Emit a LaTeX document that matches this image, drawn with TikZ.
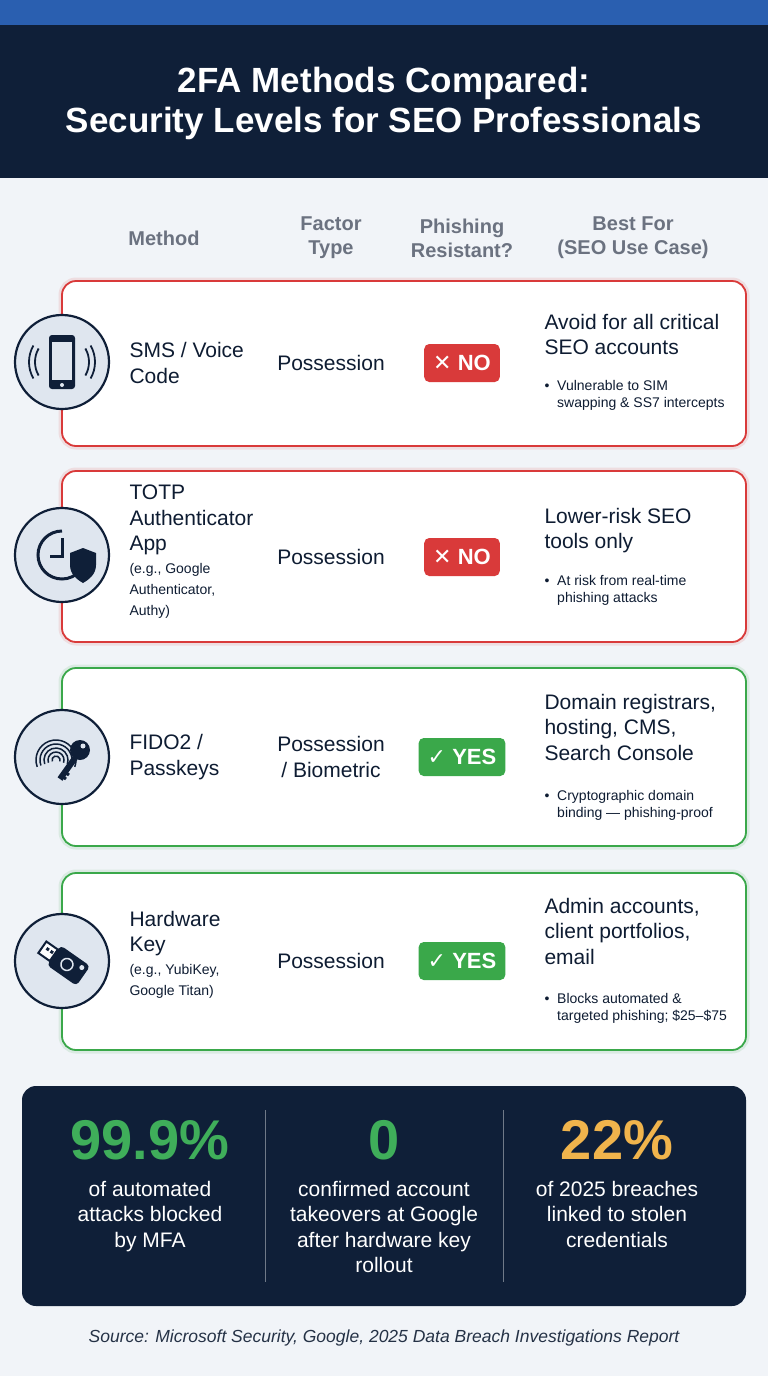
\documentclass[tikz,border=0pt]{standalone}
\usepackage{fontspec}
\setmainfont{Liberation Sans}
\newfontfamily\symfont{DejaVu Sans}
\usetikzlibrary{positioning}
\definecolor{navy}{HTML}{0F1F38}
\definecolor{topblue}{HTML}{2A5FB0}
\definecolor{pagebg}{HTML}{F1F4F8}
\definecolor{badred}{HTML}{D93A3A}
\definecolor{goodgreen}{HTML}{3AA84A}
\definecolor{headgray}{HTML}{6B7280}
\definecolor{iconfill}{HTML}{DFE6EF}
\definecolor{statgreen}{HTML}{3FAE5A}
\definecolor{statgold}{HTML}{F0B44C}
\newcommand{\fs}[1]{\fontsize{#1}{\dimexpr #1pt*12/10\relax}\selectfont}
\tikzset{
  card/.style={draw=#1, line width=1.8pt, fill=white, rounded corners=14pt},
  glow/.style={draw=#1, line width=7pt, draw opacity=.12, rounded corners=14pt},
  icon/.style={circle, draw=navy, line width=2.2pt, fill=iconfill, minimum size=94pt},
  head/.style={text=headgray, font=\fs{20}\bfseries, align=center},
  method/.style={anchor=west, align=left, text=navy!90!black, font=\fs{21}},
  factor/.style={align=center, text=navy!90!black, font=\fs{21}},
  badge/.style={fill=#1, rounded corners=5pt, text=white, font=\fs{22}\bfseries, minimum height=38pt, inner xsep=9pt},
  best/.style={anchor=north west, align=left, text=navy!90!black, font=\fs{21}},
  bullet/.style={anchor=north west, align=left, text=navy!90!black, font=\fs{14}},
  stat/.style={font=\fs{56}\bfseries, text=#1},
  statdesc/.style={align=center, text=white, font=\fs{21}}
}
\begin{document}
\begin{tikzpicture}[x=1pt,y=-1pt]
\useasboundingbox (0,0) rectangle (768,1376);
\fill[pagebg] (0,0) rectangle (768,1376);
% Header
\fill[topblue] (0,0) rectangle (768,25);
\fill[navy] (0,25) rectangle (768,178);
\node[text=white, font=\fs{35}\bfseries, align=center] (title) at (384,103)
  {2FA Methods Compared:\\[-2pt]Security Levels for SEO Professionals};
% Column heads
\node[head] (hmethod) at (164,238) {Method};
\node[head] (hfactor) at (331,238) {Factor\\Type};
\node[head] (hphish) at (462,238) {Phishing\\Resistant?};
\node[head] (hbest) at (633,238) {Best For\\(SEO Use Case)};
% Cards
\foreach \t/\b/\c in {281/446/badred,471/642/badred,668/846/goodgreen,873/1050/goodgreen}{
  \draw[glow=\c] (62,\t) rectangle (746,\b);
  \draw[card=\c] (62,\t) rectangle (746,\b);
}
% Row 1: SMS
\node[icon] (ismsc) at (62,362) {};
\fill[navy, rounded corners=3pt] (49,335) rectangle (75,389);
\fill[iconfill] (52,342) rectangle (72,380);
\fill[iconfill] (62,385) circle (2pt);
\foreach \r in {8,14}{
  \draw[navy, line width=1.8pt] (62,362) ++(150:{19+\r}) arc (150:210:{19+\r});
  \draw[navy, line width=1.8pt] (62,362) ++(-30:{19+\r}) arc (-30:30:{19+\r});
}
\node[method] (msms) at (126,363) {SMS / Voice\\Code};
\node[factor] (fsms) at (331,363) {Possession};
\node[badge=badred] (psms) at (462,363) {{\symfont ✕} NO};
\node[best] (bsms) at (541,311) {Avoid for all critical\\SEO accounts};
\node[bullet] (dsms) at (541,377) {\textbullet\ \ Vulnerable to SIM\\\phantom{\textbullet\ \ }swapping \& SS7 intercepts};
% Row 2: TOTP
\node[icon] (itotp) at (62,555) {};
\draw[navy, line width=3pt] (62,555) ++(-90:24) arc (-90:-320:24);
\draw[navy, line width=3pt] (62,538) -- (62,556) -- (50,556);
\fill[navy] (70,553) -- (83,548) -- (96,553) -- (96,565) .. controls (96,575) and (88,580) .. (83,583)
  .. controls (78,580) and (70,575) .. (70,565) -- cycle;
\node[method] (mtotp) at (126,552) {TOTP\\Authenticator\\App\\[-2pt]{\fs{14}(e.g., Google}\\[-4pt]{\fs{14}Authenticator,}\\[-4pt]{\fs{14}Authy)}};
\node[factor] (ftotp) at (331,557) {Possession};
\node[badge=badred] (ptotp) at (462,557) {{\symfont ✕} NO};
\node[best] (btotp) at (541,505) {Lower-risk SEO\\tools only};
\node[bullet] (dtotp) at (541,572) {\textbullet\ \ At risk from real-time\\\phantom{\textbullet\ \ }phishing attacks};
% Row 3: FIDO2
\node[icon] (ifido) at (62,757) {};
\foreach \r in {4,8,12,16,20}
  \draw[navy, line width=1.5pt] (56,760) ++(-200:\r) arc (-200:20:\r);
\fill[navy] (80,750) circle (10pt);
\fill[iconfill] (83,746) circle (2.5pt);
\draw[navy, line width=6pt] (75,758) -- (60,779);
\draw[navy, line width=3pt] (65,772) -- (69,775) (62,776) -- (66,779);
\node[method] (mfido) at (126,757) {FIDO2 /\\Passkeys};
\node[factor] (ffido) at (331,757) {Possession\\/ Biometric};
\node[badge=goodgreen] (pfido) at (462,757) {{\symfont ✓} YES};
\node[best] (bfido) at (541,691) {Domain registrars,\\hosting, CMS,\\Search Console};
\node[bullet] (dfido) at (541,787) {\textbullet\ \ Cryptographic domain\\\phantom{\textbullet\ \ }binding — phishing-proof};
% Row 4: Hardware key
\node[icon] (ihw) at (62,961) {};
\begin{scope}[shift={(62,961)}, rotate=-35]
  \fill[navy, rounded corners=4pt] (-10,-12) rectangle (26,12);
  \fill[iconfill] (20,-6) circle (2.5pt);
  \draw[iconfill, line width=1.5pt] (6,0) circle (6pt);
  \draw[navy, line width=2pt, fill=white] (-24,-7) rectangle (-10,7);
  \fill[navy] (-20,-3) rectangle (-17,0) (-15,-3) rectangle (-12,0);
\end{scope}
\node[method] (mhw) at (126,955) {Hardware\\Key\\[-2pt]{\fs{14}(e.g., YubiKey,}\\[-4pt]{\fs{14}Google Titan)}};
\node[factor] (fhw) at (331,961) {Possession};
\node[badge=goodgreen] (phw) at (462,961) {{\symfont ✓} YES};
\node[best] (bhw) at (541,895) {Admin accounts,\\client portfolios,\\email};
\node[bullet] (dhw) at (541,990) {\textbullet\ \ Blocks automated \&\\\phantom{\textbullet\ \ }targeted phishing; \$25–\$75};
% Stats
\fill[navy, rounded corners=14pt] (22,1086) rectangle (746,1306);
\draw[white!40!navy, line width=1pt] (265,1110) -- (265,1282) (503,1110) -- (503,1282);
\node[stat=statgreen] (s1) at (150,1140) {99.9\%};
\node[stat=statgreen] (s2) at (384,1140) {0};
\node[stat=statgold] (s3) at (617,1140) {22\%};
\node[statdesc, anchor=north] (d1) at (150,1178) {of automated\\attacks blocked\\by MFA};
\node[statdesc, anchor=north] (d2) at (384,1178) {confirmed account\\takeovers at Google\\after hardware key\\rollout};
\node[statdesc, anchor=north] (d3) at (617,1178) {of 2025 breaches\\linked to stolen\\credentials};
% Source
\node[font=\fs{17.5}\itshape, text=navy!80!gray] (src) at (384,1338)
  {Source: Microsoft Security, Google, 2025 Data Breach Investigations Report};
\end{tikzpicture}
\end{document}
